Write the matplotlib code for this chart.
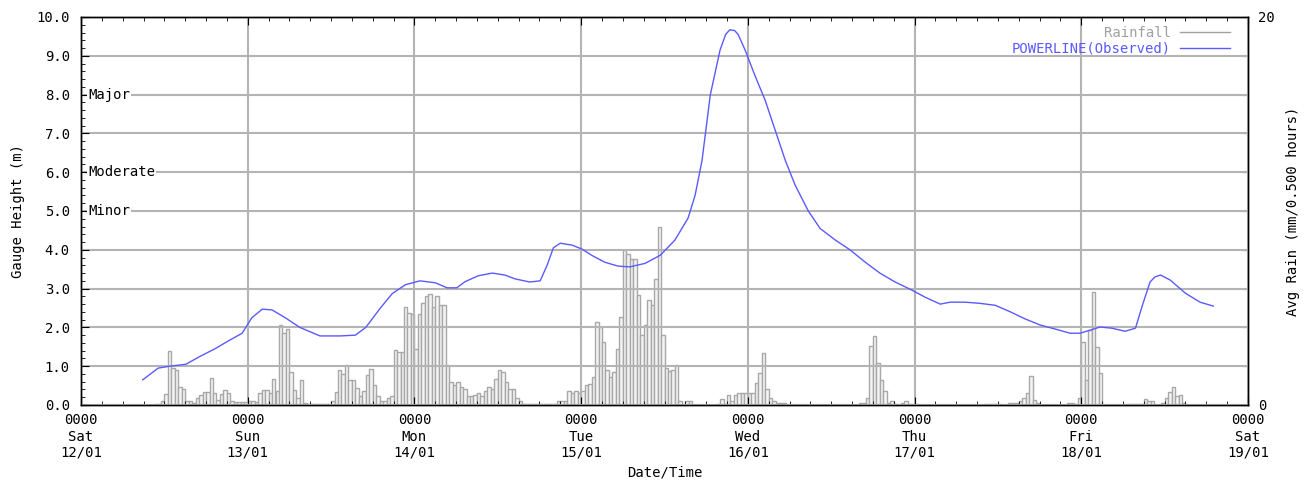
#!/usr/bin/env python3
"""Gauge height (POWERLINE observed) with averaged half-hourly rainfall bars."""

import matplotlib
matplotlib.use("Agg")
import matplotlib.pyplot as plt
from matplotlib.lines import Line2D
from matplotlib.ticker import MultipleLocator, FixedLocator, FuncFormatter
import matplotlib.transforms as mtransforms

plt.rcParams["font.family"] = "DejaVu Sans Mono"

# x axis: hours from Sat 12/01 0000
day_ticks = [0, 24, 48, 72, 96, 120, 144, 168]
day_labels = ["0000\nSat\n12/01", "0000\nSun\n13/01", "0000\nMon\n14/01",
              "0000\nTue\n15/01", "0000\nWed\n16/01", "0000\nThu\n17/01",
              "0000\nFri\n18/01", "0000\nSat\n19/01"]

# POWERLINE(Observed) gauge height (m)
level_hours = [8.9, 11.1, 12.8, 15.1, 17.1, 19.3, 21.2, 23.2, 24.6, 26.1, 27.5,
               29.4, 31.5, 34.4, 37.3, 39.5, 41.0, 43.1, 44.8, 46.7, 48.8, 51.0,
               52.7, 54.1, 55.3, 57.2, 59.2, 61.0, 62.5, 64.6, 66.1, 67.1, 68.0,
               69.0, 70.7, 72.1, 73.6, 75.4, 77.3, 79.0, 81.2, 83.4, 85.5, 87.4,
               88.4, 89.4, 90.6, 92.0, 92.8, 93.4, 94.1, 94.6, 95.6, 97.0, 98.5,
               99.9, 101.4, 102.8, 104.7, 106.4, 108.6, 110.7, 112.9, 115.0,
               117.2, 119.4, 121.5, 123.7, 125.1, 127.3, 129.4, 131.6, 133.8,
               135.9, 138.1, 140.2, 142.4, 143.8, 145.3, 146.7, 148.4, 150.3,
               151.8, 152.8, 153.9, 154.6, 155.4, 156.8, 159.0, 161.1, 163.0]
level_m = [0.65, 0.95, 1.0, 1.05, 1.25, 1.45, 1.65, 1.85, 2.25, 2.47, 2.45,
           2.25, 2.0, 1.78, 1.78, 1.8, 2.0, 2.5, 2.87, 3.1, 3.2, 3.15,
           3.02, 3.02, 3.18, 3.33, 3.4, 3.35, 3.25, 3.17, 3.2, 3.6, 4.05,
           4.17, 4.12, 4.02, 3.85, 3.68, 3.58, 3.56, 3.65, 3.86, 4.25, 4.82,
           5.4, 6.3, 8.0, 9.15, 9.55, 9.67, 9.65, 9.55, 9.15, 8.5, 7.85,
           7.1, 6.3, 5.67, 5.0, 4.55, 4.25, 4.0, 3.68, 3.4,
           3.17, 2.98, 2.78, 2.6, 2.65, 2.65, 2.62, 2.57, 2.4,
           2.22, 2.06, 1.96, 1.85, 1.85, 1.93, 2.01, 1.98, 1.9,
           1.98, 2.57, 3.17, 3.3, 3.35, 3.22, 2.88, 2.65, 2.55]

# average rain (mm per half hour), one list per day, 48 bins each
rain_sat = [0, 0, 0, 0, 0, 0, 0, 0, 0, 0, 0, 0, 0, 0, 0, 0, 0, 0, 0, 0, 0,
            0.05, 0.05, 0.2, 0.55, 2.8, 1.9, 1.8, 0.95, 0.8, 0.2, 0.2, 0.1,
            0.35, 0.5, 0.65, 0.65, 1.4, 0.6, 0.25, 0.55, 0.75, 0.6, 0.2,
            0.15, 0.15, 0.15, 0.15]
rain_sun = [0.2, 0.2, 0.15, 0.6, 0.75, 0.75, 0.6, 1.35, 0.7, 4.1, 3.7, 3.9,
            1.7, 0.75, 0.35, 1.3, 0.1, 0.05, 0.05, 0.05, 0.05, 0.05, 0.05,
            0.05, 0.2, 0.65, 1.8, 1.6, 2.05, 1.3, 1.3, 0.9, 0.45, 0.7, 1.55,
            1.85, 1.05, 0.45, 0.2, 0.2, 0.35, 0.45, 2.85, 2.75, 2.75, 5.05,
            4.75, 4.7]
rain_mon = [2.9, 4.7, 5.25, 5.6, 5.7, 5.05, 5.6, 5.15, 5.15, 2.05, 1.2, 1.05,
            1.2, 0.95, 0.85, 0.45, 0.45, 0.5, 0.6, 0.45, 0.7, 0.95, 0.85,
            1.35, 1.8, 1.7, 1.2, 0.8, 0.8, 0.35, 0.2, 0.05, 0.05, 0.05, 0.05,
            0.05, 0.05, 0.05, 0.05, 0.05, 0.05, 0.2, 0.2, 0.2, 0.7, 0.6, 0.7,
            0.6]
rain_tue = [0.7, 1.05, 1.1, 1.45, 4.3, 4.0, 3.25, 1.8, 1.45, 1.7, 2.9, 4.55,
            8.0, 7.8, 7.55, 7.55, 5.65, 3.6, 4.1, 5.4, 5.15, 6.5, 9.2, 3.6,
            1.9, 1.75, 1.8, 2.05, 0.2, 0.05, 0.2, 0.2, 0, 0, 0, 0, 0, 0, 0,
            0.05, 0.3, 0.05, 0.5, 0.2, 0.5, 0.6, 0.6, 0.6]
rain_wed = [0.6, 0.6, 1.15, 1.65, 2.7, 0.85, 0.35, 0.2, 0.1, 0.1, 0.1,
            0, 0, 0, 0, 0, 0, 0, 0, 0, 0, 0, 0, 0, 0, 0, 0, 0, 0, 0, 0, 0,
            0.1, 0.1, 0.35, 3.05, 3.55, 2.15, 1.3, 0.7, 0.1, 0.2, 0.05, 0,
            0.1, 0.2, 0.05, 0.05]
rain_thu = [0.05, 0, 0, 0, 0, 0, 0, 0, 0, 0, 0, 0, 0, 0, 0, 0, 0, 0, 0, 0,
            0.05, 0.05, 0.05, 0.05, 0.05, 0, 0, 0.1, 0.1, 0.1, 0.2, 0.35,
            0.6, 1.5, 0.25, 0.1, 0, 0, 0, 0, 0, 0, 0, 0, 0.1, 0.1, 0.05, 0.35]
rain_fri = [3.25, 1.3, 3.85, 5.85, 3.0, 1.65, 0, 0, 0, 0, 0, 0, 0.05, 0.05,
            0.05, 0.05, 0.05, 0.05, 0.3, 0.2, 0.2, 0, 0, 0.1, 0.35, 0.65,
            0.95, 0.45, 0.5, 0.1, 0, 0, 0, 0, 0, 0, 0, 0, 0, 0, 0, 0, 0, 0,
            0, 0, 0, 0]

flood_levels = [("Major", 8.0), ("Moderate", 6.0), ("Minor", 5.0)]

GRID = "#b4b4b4"
BLUE = "#5a5aff"
RAIN_EDGE = "#a8a8a8"
FS = 10

rain = rain_sat + rain_sun + rain_mon + rain_tue + rain_wed + rain_thu + rain_fri
rain_hours = [i * 0.5 for i in range(len(rain))]

fig = plt.figure(figsize=(13.12, 4.8), dpi=100)
ax = fig.add_axes([81 / 1312, 75 / 480, 1167 / 1312, 388 / 480])
ax2 = ax.twinx()
ax.set_zorder(ax2.get_zorder() + 1)
ax.patch.set_visible(False)

# rainfall bars on the right axis
ax2.bar(rain_hours, rain, width=0.5, align="edge", color="#f4f4f4",
        edgecolor=RAIN_EDGE, linewidth=1.0)
ax2.set_ylim(0, 20)
ax2.yaxis.set_major_locator(MultipleLocator(2))
ax2.yaxis.set_major_formatter(FuncFormatter(lambda v, p: f"{v:.0f}" if v in (0, 20) else ""))
ax2.tick_params(axis="y", direction="in", length=4, pad=7, labelsize=FS)
ax2.set_ylabel("Avg Rain (mm/0.500 hours)", fontsize=FS, labelpad=8)

# gauge height line
line, = ax.plot(level_hours, level_m, color=BLUE, linewidth=1.0, zorder=3)
ax.set_xlim(0, 168)
ax.set_ylim(0, 10)
ax.set_axisbelow(True)
ax.grid(True, which="major", color=GRID, linewidth=1.5)

ax.yaxis.set_major_locator(MultipleLocator(1))
ax.yaxis.set_minor_locator(MultipleLocator(0.2))
ax.yaxis.set_major_formatter(FuncFormatter(lambda v, p: f"{v:.1f}"))
ax.xaxis.set_major_locator(FixedLocator(day_ticks))
ax.xaxis.set_minor_locator(MultipleLocator(3))
ax.set_xticklabels(day_labels, linespacing=1.2)

ax.tick_params(axis="both", which="both", direction="in", top=True, labelsize=FS)
ax.tick_params(axis="y", which="major", length=6, pad=8)
ax.tick_params(axis="y", which="minor", length=3)
ax.tick_params(axis="x", which="major", length=6, pad=6)
ax.tick_params(axis="x", which="minor", length=3)

ax.set_ylabel("Gauge Height (m)", fontsize=FS, labelpad=8)
ax.set_xlabel("Date/Time", fontsize=FS, labelpad=4)

for sp in list(ax.spines.values()) + list(ax2.spines.values()):
    sp.set_color("black")
    sp.set_linewidth(1.0)

# flood classification labels on the gauge axis
trans = mtransforms.blended_transform_factory(ax.transAxes, ax.transData)
for name, lvl in flood_levels:
    ax.text(0.006, lvl, name, transform=trans, fontsize=FS, va="center", ha="left",
            bbox=dict(facecolor="white", edgecolor="none", pad=0.5), zorder=4)

handles = [Line2D([], [], color="#a0a0a0", linewidth=1.0), line]
ax.legend(handles, ["Rainfall", "POWERLINE(Observed)"], loc="upper right",
          bbox_to_anchor=(0.985, 0.978), frameon=False, markerfirst=False,
          labelcolor=["#a0a0a0", BLUE], fontsize=FS, handlelength=3.6,
          handletextpad=0.7, labelspacing=0.15, borderpad=0, borderaxespad=0)

fig.savefig("out.png", dpi=100)
